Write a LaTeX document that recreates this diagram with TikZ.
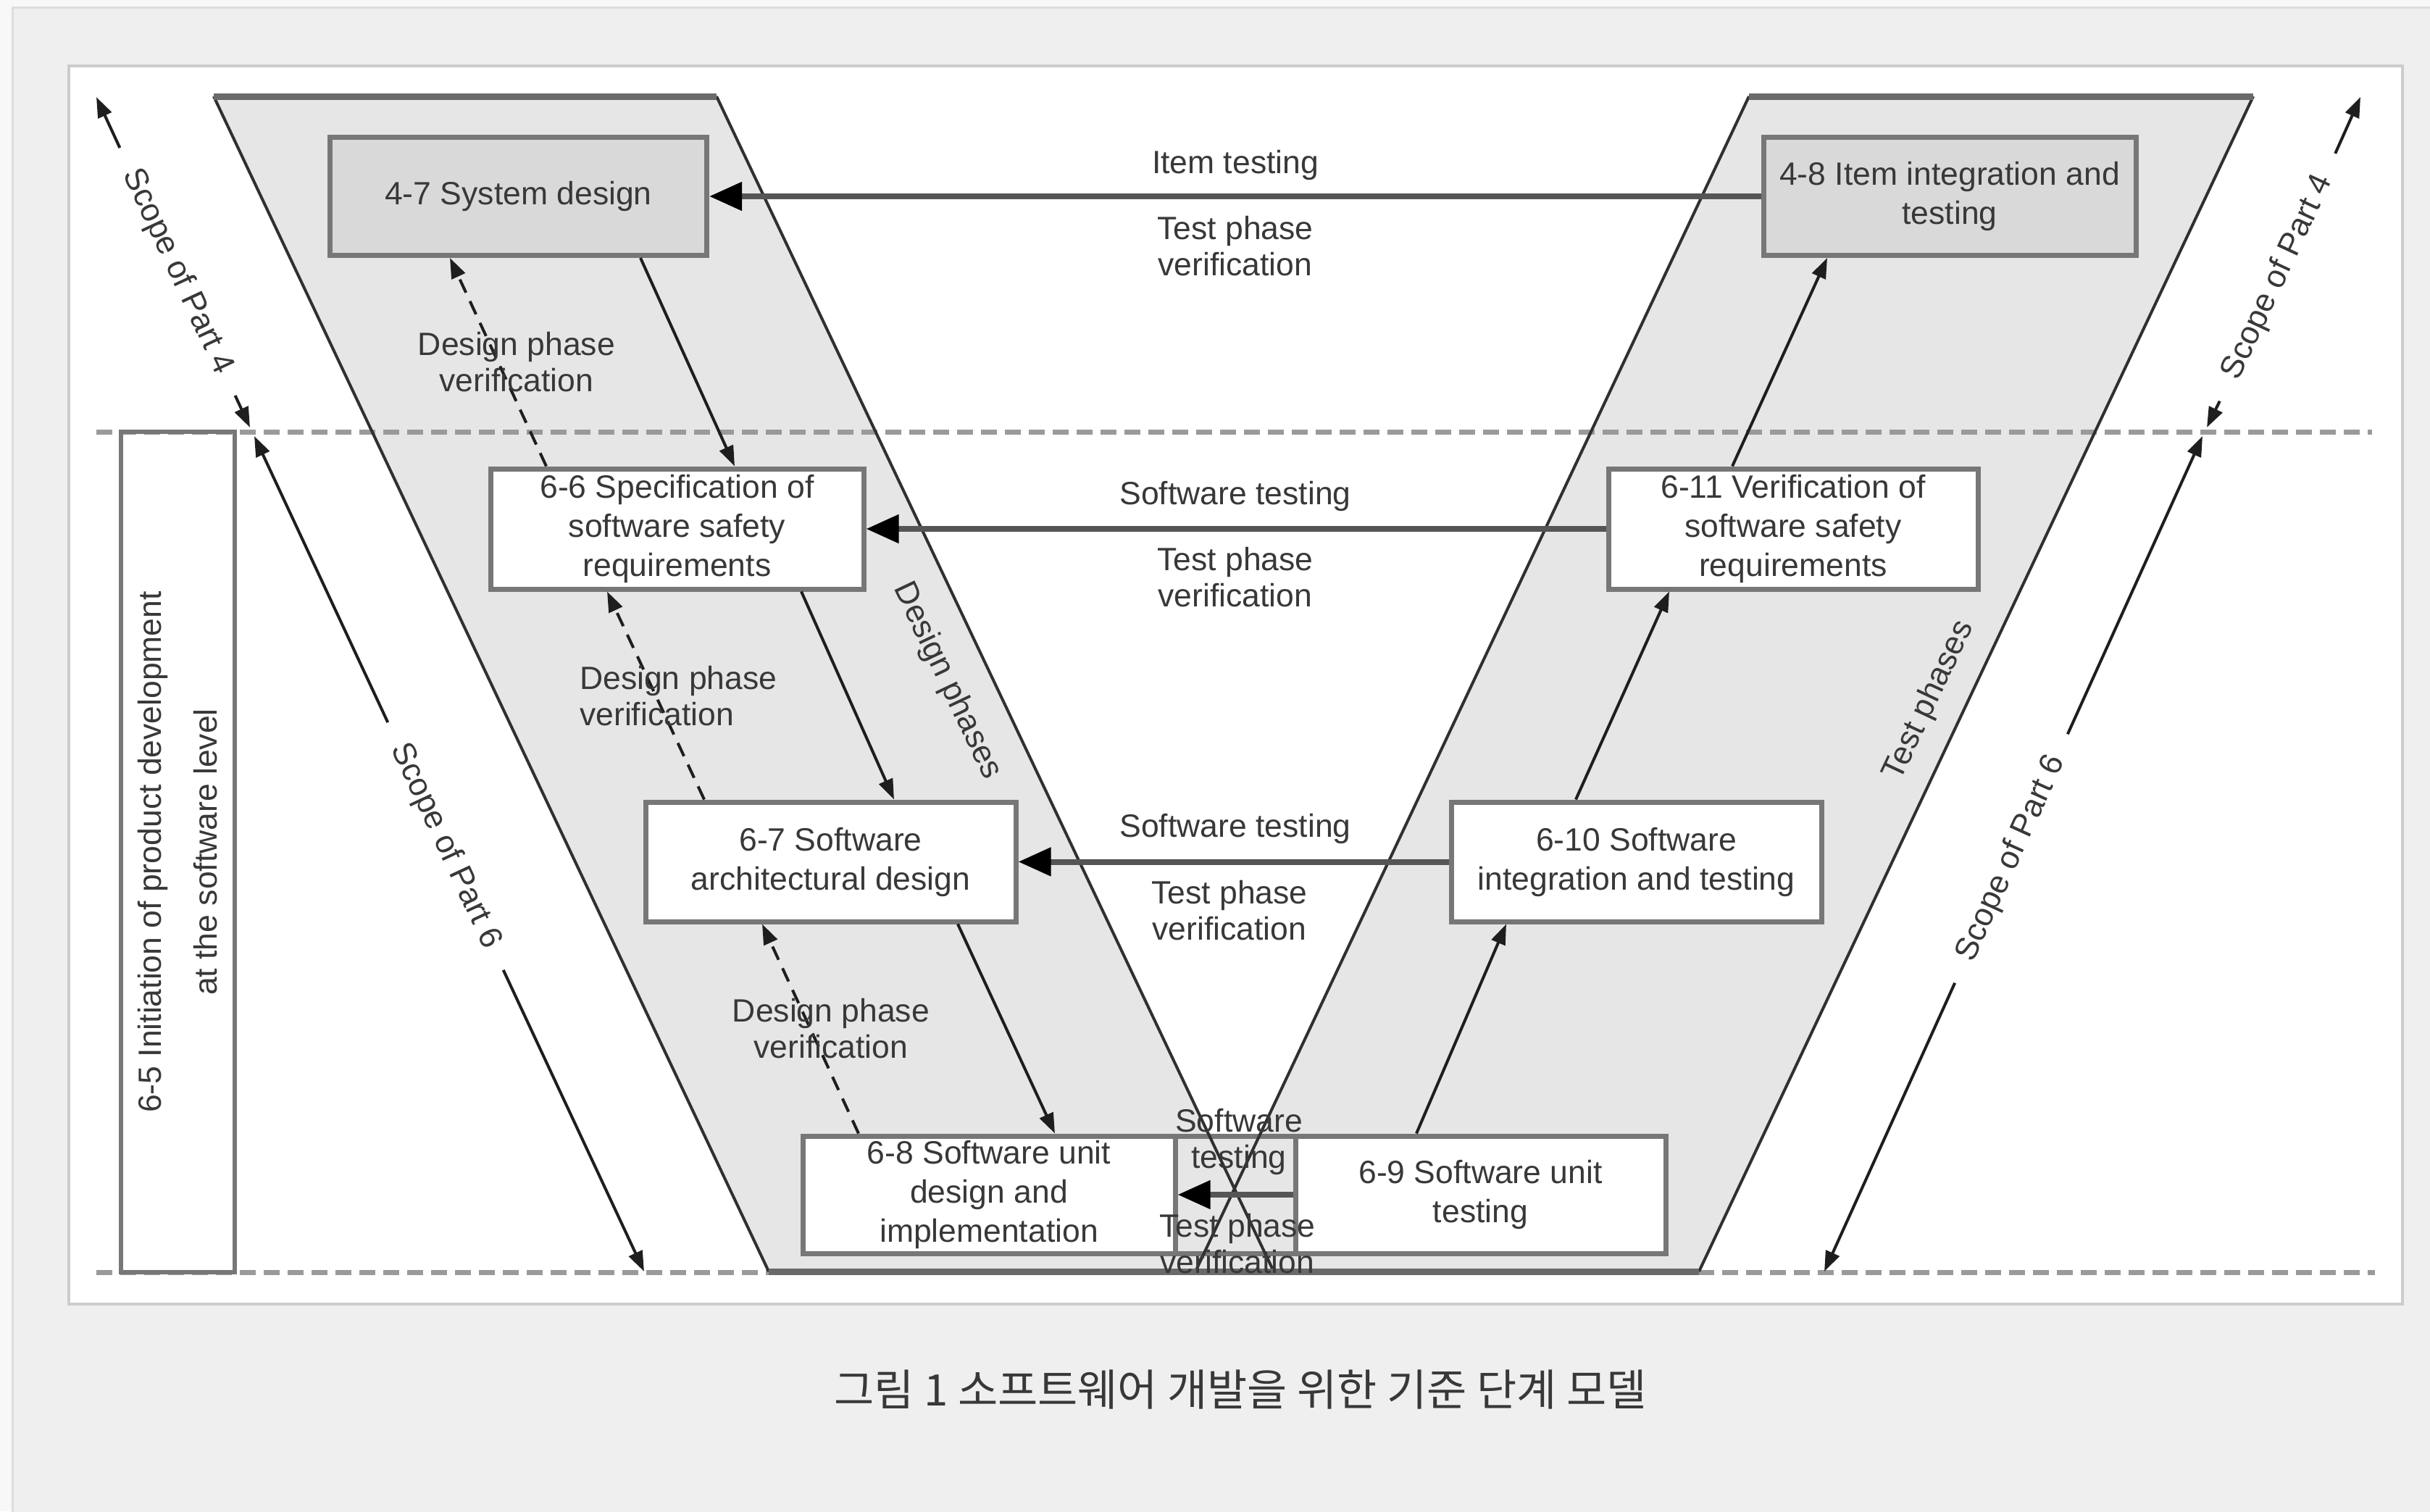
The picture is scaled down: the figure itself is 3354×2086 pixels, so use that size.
\documentclass[tikz,border=0pt]{standalone}
\usepackage{fontspec}
\setmainfont{Liberation Sans}
\newfontfamily\krfont{Noto Sans CJK KR}
\usetikzlibrary{arrows.meta}

\definecolor{pageouter}{HTML}{F8F8F8}
\definecolor{pagebg}{HTML}{EFEFEF}
\definecolor{pageframe}{HTML}{DDDDDD}
\definecolor{panelrule}{HTML}{CCCCCC}
\definecolor{phasefill}{HTML}{E6E6E6}
\definecolor{itemfill}{HTML}{D9D9D9}
\definecolor{boxrule}{HTML}{777777}
\definecolor{edgerule}{HTML}{6A6A6A}
\definecolor{sidecol}{HTML}{303030}
\definecolor{flowline}{HTML}{1E1E1E}
\definecolor{testline}{HTML}{555555}
\definecolor{dashrule}{HTML}{9A9A9A}
\definecolor{txt}{HTML}{383838}

\begin{document}
\begin{tikzpicture}[x=1pt,y=-1pt,
  lbl/.style={font=\fontsize{44.5}{50}\selectfont, text=txt, align=center, inner sep=0pt},
  stagebox/.style={draw=boxrule, line width=7pt, fill=white, inner sep=0pt,
    font=\fontsize{44.5}{54}\selectfont, text=txt, align=center},
  itembox/.style={stagebox, fill=itemfill},
  testarrow/.style={draw=testline, line width=8pt,
    -{Triangle[length=45pt,width=38pt,color=black]}},
  flowarrow/.style={draw=flowline, line width=4pt, -{Triangle[length=28pt,width=20pt]}},
  verifarrow/.style={flowarrow, dash pattern=on 20pt off 13pt},
  scopearrow/.style={draw=flowline, line width=4pt, -{Triangle[length=28pt,width=20pt]},
    shorten <=35pt},
  sideline/.style={draw=sidecol, line width=4pt},
  rimline/.style={draw=edgerule, line width=9pt},
  levelrule/.style={draw=dashrule, line width=7pt, dash pattern=on 22pt off 11pt},
]
\useasboundingbox (0,0) rectangle (3354,2086);

% page and white panel
\fill[pageouter] (0,0) rectangle (3354,2086);
\filldraw[fill=pagebg, draw=pageframe, line width=3pt] (17,10) rectangle (3370,2100);
\filldraw[fill=white, draw=panelrule, line width=4pt] (95,91) rectangle (3316,1800);

% the two phase bands of the V
\coordinate (LA) at (295,133);  \coordinate (LB) at (989,133);
\coordinate (LC) at (1758,1755); \coordinate (LD) at (1061,1755);
\coordinate (RA) at (2414,133); \coordinate (RB) at (3110,133);
\coordinate (RC) at (2345,1755); \coordinate (RD) at (1650,1755);
\fill[phasefill] (LA) -- (LB) -- (LC) -- (LD) -- cycle;
\fill[phasefill] (RA) -- (RB) -- (RC) -- (RD) -- cycle;

% level boundaries
\coordinate (UL) at (133,596);  \coordinate (UR) at (3274,596);
\coordinate (BL) at (133,1756); \coordinate (BR) at (3278,1756);
\draw[levelrule] (UL) -- (UR);
\draw[levelrule] (BL) -- (BR);

% cell between unit design and unit testing
\node[draw=boxrule, line width=7pt, fill=phasefill, minimum width=166pt,
      minimum height=162pt, inner sep=0pt] (bx) at (1705,1649) {};

% band outlines
\draw[sideline] (LA) -- (LD);
\draw[sideline] (LB) -- (LC);
\draw[sideline] (RA) -- (RD);
\draw[sideline] (RB) -- (RC);
\draw[rimline] (LA) -- (LB);
\draw[rimline] (RA) -- (RB);
\draw[rimline] (LD) -- (LC);
\draw[rimline] (RD) -- (RC);

% 6-5 column
\node[draw=boxrule, line width=6pt, minimum width=157pt, minimum height=1160pt,
      inner sep=0pt] (b65) at (245.5,1176) {};
\node[lbl, rotate=90] (t65) at (b65.center)
  {6-5 Initiation of product development\\[27pt]at the software level};

% phase boxes
\node[itembox, minimum width=520pt, minimum height=163pt] (b47) at (715.5,271) {4-7 System design};
\node[itembox, minimum width=514pt, minimum height=163pt] (b48) at (2691,271) {4-8 Item integration and\\testing};
\node[stagebox, minimum width=515pt, minimum height=166pt] (b66) at (934.5,730) {6-6 Specification of\\software safety\\requirements};
\node[stagebox, minimum width=510pt, minimum height=166pt] (b611) at (2475,730) {6-11 Verification of\\software safety\\requirements};
\node[stagebox, minimum width=511pt, minimum height=165pt] (b67) at (1146.5,1189.5) {6-7 Software\\architectural design};
\node[stagebox, minimum width=511pt, minimum height=165pt] (b610) at (2258.5,1189.5) {6-10 Software\\integration and testing};
\node[stagebox, minimum width=514pt, minimum height=162pt] (b68) at (1365,1649) {6-8 Software unit\\design and\\implementation};
\node[stagebox, minimum width=511pt, minimum height=162pt] (b69) at (2043.5,1649) {6-9 Software unit\\testing};

% test phase verification arrows
\draw[testarrow] (b48.west) -- (b47.east);
\draw[testarrow] (b611.west) -- (b66.east);
\draw[testarrow] (b610.west) -- (b67.east);
\draw[testarrow] (b69.west) -- (b68.east);

% design flow (down the left arm)
\draw[flowarrow] ([xshift=168.5pt]b47.south) -- ([xshift=79.5pt]b66.north);
\draw[flowarrow] ([xshift=171.5pt]b66.south) -- ([xshift=87.5pt]b67.north);
\draw[flowarrow] ([xshift=175.5pt]b67.south) -- ([xshift=91pt]b68.north);

% design phase verification (dashed, back up)
\draw[verifarrow] ([xshift=-180.5pt]b66.north) -- ([xshift=-94.5pt]b47.south);
\draw[verifarrow] ([xshift=-174.5pt]b67.north) -- ([xshift=-96.5pt]b66.south);
\draw[verifarrow] ([xshift=-180pt]b68.north) -- ([xshift=-94.5pt]b67.south);

% test flow (up the right arm)
\draw[flowarrow] ([xshift=-88.5pt]b69.north) -- ([xshift=-179.5pt]b610.south);
\draw[flowarrow] ([xshift=-83.5pt]b610.north) -- ([xshift=-171pt]b611.south);
\draw[flowarrow] ([xshift=-84pt]b611.north) -- ([xshift=-169pt]b48.south);

% labels of the horizontal arrows
\node[lbl] (lit)  at (1705,228)  {Item testing};
\node[lbl] (ltp1) at (1705,340)  {Test phase\\verification};
\node[lbl] (lst1) at (1705,685)  {Software testing};
\node[lbl] (ltp2) at (1705,797)  {Test phase\\verification};
\node[lbl] (lst2) at (1705,1144) {Software testing};
\node[lbl] (ltp3) at (1697,1257) {Test phase\\verification};
\node[lbl] (lst3) at (1710,1576) {Software\\testing};
\node[lbl] (ltp4) at (1708,1717) {Test phase\\verification};

% labels of the dashed arrows
\node[lbl] (ldv1) at (713,500) {Design phase\\verification};
\node[lbl, align=left, anchor=west] (ldv2) at (800,961) {Design phase\\verification};
\node[lbl] (ldv3) at (1147,1420) {Design phase\\verification};

% band titles
\node[lbl, rotate=-64.6] (ldes) at (1307,940) {Design phases};
\node[lbl, rotate=64.8] (ltst) at (2663,967) {Test phases};

% scope arrows
\coordinate (T4top) at (133,134);  \coordinate (T4bot) at (345,590);
\coordinate (T6top) at (351,602);  \coordinate (T6bot) at (889,1755);
\coordinate (R4top) at (3258,134); \coordinate (R4bot) at (3046,590);
\coordinate (R6top) at (3040,602); \coordinate (R6bot) at (2518,1755);
\node[lbl, rotate=-65] (sp4L) at (245,375)  {Scope of Part 4};
\node[lbl, rotate=-65] (sp6L) at (615,1168) {Scope of Part 6};
\node[lbl, rotate=65]  (sp4R) at (3144,383) {Scope of Part 4};
\node[lbl, rotate=65.6] (sp6R) at (2776,1185) {Scope of Part 6};
\draw[scopearrow] (sp4L.west) -- (T4top);
\draw[scopearrow] (sp4L.east) -- (T4bot);
\draw[scopearrow] (sp6L.west) -- (T6top);
\draw[scopearrow] (sp6L.east) -- (T6bot);
\draw[scopearrow] (sp4R.east) -- (R4top);
\draw[scopearrow] (sp4R.west) -- (R4bot);
\draw[scopearrow] (sp6R.east) -- (R6top);
\draw[scopearrow] (sp6R.west) -- (R6bot);

% caption
\node[font=\krfont\fontsize{60}{66}\selectfont, text=txt, inner sep=0pt] (caption) at (1712,1918)
  {그림 1 소프트웨어 개발을 위한 기준 단계 모델};
\end{tikzpicture}
\end{document}
